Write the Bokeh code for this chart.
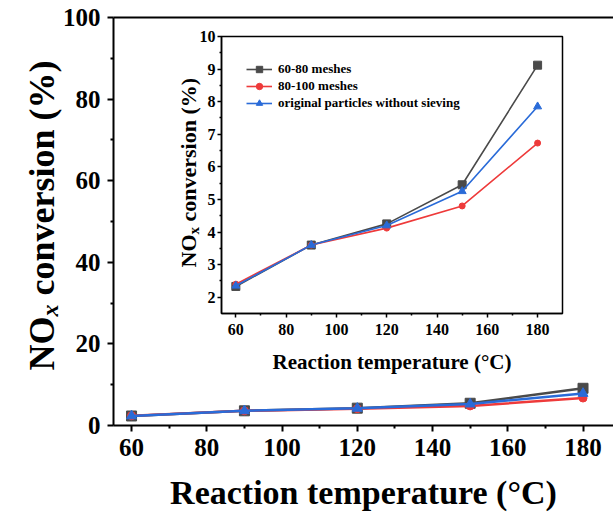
import math
from bokeh.plotting import figure
from bokeh.models import Range1d, LinearAxis, FixedTicker, Label, Legend, LegendItem
from bokeh.embed import file_html
from bokeh.resources import INLINE

# ---------------- data ----------------
temperature = [60, 90, 120, 150, 180]
conv_60_80 = [2.33, 3.60, 4.25, 5.45, 9.12]
conv_80_100 = [2.40, 3.60, 4.12, 4.80, 6.73]
conv_original = [2.35, 3.60, 4.20, 5.25, 7.85]
series_labels = ["60-80 meshes", "80-100 meshes", "original particles without sieving"]

x_major = [60, 80, 100, 120, 140, 160, 180]
x_minor = [70, 90, 110, 130, 150, 170]
main_y_major = [0, 20, 40, 60, 80, 100]
main_y_minor = [10, 30, 50, 70, 90]
inset_y_major = [2, 3, 4, 5, 6, 7, 8, 9, 10]
inset_y_minor = [2.5, 3.5, 4.5, 5.5, 6.5, 7.5, 8.5, 9.5]

x_title = "Reaction temperature (\u00b0C)"
y_title_parts = ["NO", "x", "conversion (%)"]

FONT = "Liberation Serif"
C_BLACK = "#4a4a4a"
C_RED = "#ee3a3a"
C_BLUE = "#2a6bd8"

series = [
    (conv_60_80, C_BLACK, "square"),
    (conv_80_100, C_RED, "circle"),
    (conv_original, C_BLUE, "triangle"),
]


def style_axis(ax, size, tick_out, standoff, lw):
    ax.axis_line_width = lw
    ax.axis_line_color = "black"
    ax.major_tick_line_width = lw
    ax.minor_tick_line_width = lw
    ax.major_tick_in = 0
    ax.minor_tick_in = 0
    ax.major_tick_out = tick_out
    ax.minor_tick_out = max(2, tick_out // 2)
    ax.major_label_text_font = FONT
    ax.major_label_text_font_style = "bold"
    ax.major_label_text_font_size = size
    ax.major_label_text_color = "black"
    ax.major_label_standoff = standoff


def y_title(fig, x0, y0, size, sub_size, sub_shift, italic_sub):
    w_no = 1.5 * size
    w_x = 0.5 * sub_size
    gap = 0.25 * size
    common = dict(x_units="screen", y_units="screen", angle=math.pi / 2,
                  text_font=FONT, text_color="black", text_baseline="alphabetic",
                  text_align="left")
    fig.add_layout(Label(x=x0, y=y0, text=y_title_parts[0], text_font_size=f"{size}px",
                         text_font_style="bold", **common))
    fig.add_layout(Label(x=x0 + sub_shift, y=y0 + w_no, text=y_title_parts[1],
                         text_font_size=f"{sub_size}px",
                         text_font_style="bold italic" if italic_sub else "bold", **common))
    fig.add_layout(Label(x=x0, y=y0 + w_no + w_x + gap, text=y_title_parts[2],
                         text_font_size=f"{size}px", text_font_style="bold", **common))


# ---------------- main plot ----------------
p = figure(width=613, height=513, x_range=Range1d(55.2, 188.1), y_range=Range1d(0, 100),
           output_backend="svg", toolbar_location=None,
           min_border_left=113, min_border_right=0, min_border_top=17, min_border_bottom=87)
p.styles = {"position": "absolute", "left": "0px", "top": "0px"}
p.outline_line_color = None
p.grid.visible = False
p.background_fill_color = "white"
p.border_fill_color = "white"

p.xaxis.ticker = FixedTicker(ticks=x_major, minor_ticks=x_minor)
p.yaxis.ticker = FixedTicker(ticks=main_y_major, minor_ticks=main_y_minor)
style_axis(p.xaxis[0], "25px", 6, 7, 2)
style_axis(p.yaxis[0], "25px", 6, 7, 2)
p.xaxis.axis_label = x_title
p.xaxis.axis_label_text_font = FONT
p.xaxis.axis_label_text_font_style = "bold"
p.xaxis.axis_label_text_font_size = "34px"
p.xaxis.axis_label_text_color = "black"
p.xaxis.axis_label_standoff = 15

top_axis = LinearAxis(ticker=FixedTicker(ticks=[]), major_label_text_font_size="0px",
                      axis_line_width=2, major_tick_out=0, minor_tick_out=0,
                      major_tick_in=0, minor_tick_in=0)
p.add_layout(top_axis, "above")

for vals, col, mk in series:
    p.line(temperature, vals, line_color=col, line_width=2.5)
    p.scatter(temperature, vals, marker=mk, size=10 if mk != "circle" else 8,
              fill_color=col, line_color=col)

# ---------------- inset plot ----------------
q = figure(width=407, height=360, x_range=Range1d(54.3, 189.9), y_range=Range1d(1.5, 10),
           output_backend="svg", toolbar_location=None,
           min_border_left=61, min_border_right=5, min_border_top=8, min_border_bottom=75)
q.styles = {"position": "absolute", "left": "160px", "top": "28px"}
q.grid.visible = False
q.outline_line_color = "black"
q.outline_line_width = 1.5
q.background_fill_color = "white"
q.border_fill_color = "white"

q.xaxis.ticker = FixedTicker(ticks=x_major, minor_ticks=x_minor)
q.yaxis.ticker = FixedTicker(ticks=inset_y_major, minor_ticks=inset_y_minor)
style_axis(q.xaxis[0], "16px", 4, 6, 1.5)
style_axis(q.yaxis[0], "16px", 4, 2, 1.5)
q.xaxis.axis_label = x_title
q.xaxis.axis_label_text_font = FONT
q.xaxis.axis_label_text_font_style = "bold"
q.xaxis.axis_label_text_font_size = "21px"
q.xaxis.axis_label_text_color = "black"
q.xaxis.axis_label_standoff = 12

items = []
for (vals, col, mk), lab in zip(series, series_labels):
    r1 = q.line(temperature, vals, line_color=col, line_width=1.6)
    r2 = q.scatter(temperature, vals, marker=mk, size=8 if mk != "circle" else 6,
                   fill_color=col, line_color=col)
    items.append(LegendItem(label=lab, renderers=[r1, r2]))

legend = Legend(items=items, location="top_left", margin=12, padding=13,
                glyph_width=26, glyph_height=16, label_height=16, label_standoff=6,
                spacing=1, border_line_alpha=0, background_fill_alpha=0,
                label_text_font=FONT, label_text_font_style="bold",
                label_text_font_size="13px", label_text_color="black")
q.add_layout(legend)

# ---------------- transparent overlay holding the rotated y titles ----------------
t = figure(width=215, height=513, x_range=Range1d(0, 1), y_range=Range1d(0, 1),
           x_axis_type=None, y_axis_type=None, output_backend="svg",
           toolbar_location=None, min_border=0)
t.styles = {"position": "absolute", "left": "0px", "top": "0px"}
t.outline_line_color = None
t.grid.visible = False
t.background_fill_alpha = 0
t.border_fill_alpha = 0

y_title(t, 41, 143, 36, 24, 8, True)     # main y title
y_title(t, 188, 246, 22, 15, 5, False)   # inset y title

open("out.html", "w").write(file_html([p, q, t], INLINE))
